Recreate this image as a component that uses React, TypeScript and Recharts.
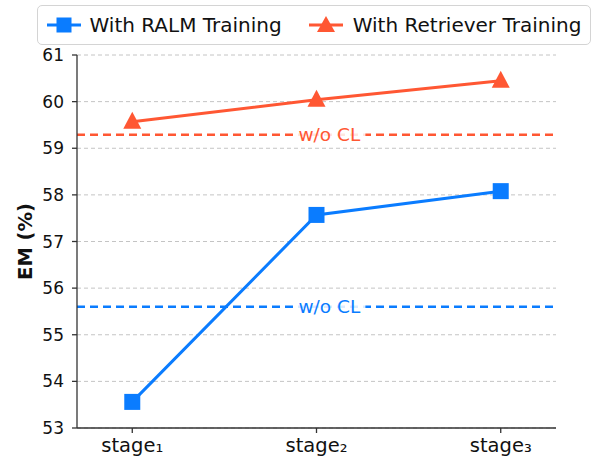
import React from "react";
import {
  ComposedChart,
  Line,
  XAxis,
  YAxis,
  CartesianGrid,
  ReferenceLine,
  ReferenceDot,
  Label,
} from "recharts";

// data
const STAGES = ["stage₁", "stage₂", "stage₃"];
const RALM_EM = [53.56, 57.57, 58.08];
const RETRIEVER_EM = [59.57, 60.04, 60.45];
const RALM_NO_CL = 55.6;
const RETRIEVER_NO_CL = 59.29;
const Y_TICKS = [53, 54, 55, 56, 57, 58, 59, 60, 61];
const X_TICKS = [0, 1, 2];

const BLUE = "#0a7cff";
const ORANGE = "#ff5733";
const FONT = "DejaVu Sans, sans-serif";

const chartData = STAGES.map((stage, i) => ({
  x: i,
  stage,
  ralm: RALM_EM[i],
  retriever: RETRIEVER_EM[i],
}));

function Square(props: any) {
  const { cx, cy } = props;
  if (cx == null || cy == null) return null;
  return <rect x={cx - 8} y={cy - 8} width={16} height={16} fill={BLUE} />;
}

function Triangle(props: any) {
  const { cx, cy } = props;
  if (cx == null || cy == null) return null;
  return (
    <polygon
      points={`${cx},${cy - 10} ${cx - 9},${cy + 7} ${cx + 9},${cy + 7}`}
      fill={ORANGE}
    />
  );
}

function NoClTag({ color }: { color: string }) {
  return (props: any) => {
    const { cx, cy } = props;
    if (cx == null || cy == null) return null;
    return (
      <g>
        <rect x={cx - 36} y={cy - 11} width={72} height={22} fill="#fff" fillOpacity={0.85} />
        <text
          x={cx}
          y={cy}
          dy="0.35em"
          textAnchor="middle"
          fontSize={18.5}
          fontFamily={FONT}
          fill={color}
        >
          w/o CL
        </text>
      </g>
    );
  };
}

function LegendMarker({ kind }: { kind: "square" | "triangle" }) {
  const color = kind === "square" ? BLUE : ORANGE;
  return (
    <svg width={34} height={20} style={{ flex: "none" }}>
      <line x1={0} y1={10} x2={34} y2={10} stroke={color} strokeWidth={3} />
      {kind === "square" ? (
        <rect x={9.5} y={2.5} width={15} height={15} fill={color} />
      ) : (
        <polygon points="17,1 8,17 26,17" fill={color} />
      )}
    </svg>
  );
}

function LegendBox() {
  return (
    <div
      style={{
        position: "absolute",
        left: 37,
        top: 5,
        boxSizing: "border-box",
        width: 554,
        height: 40,
        border: "1.5px solid #d4d4d4",
        borderRadius: 5,
        display: "flex",
        alignItems: "center",
        paddingLeft: 8.5,
        fontFamily: FONT,
        fontSize: 20,
        color: "#111",
        background: "#fff",
        whiteSpace: "nowrap",
      }}
    >
      <LegendMarker kind="square" />
      <span style={{ marginLeft: 9, marginRight: 27 }}>With RALM Training</span>
      <LegendMarker kind="triangle" />
      <span style={{ marginLeft: 10 }}>With Retriever Training</span>
    </div>
  );
}

export default function App() {
  return (
    <div style={{ position: "absolute", left: 0, top: 0, width: 595, height: 461, background: "#fff" }}>
      <ComposedChart
        width={595}
        height={461}
        data={chartData}
        margin={{ top: 55, right: 39, bottom: 0, left: 0 }}
      >
        <CartesianGrid
          horizontal
          vertical={false}
          stroke="#c4c4c4"
          strokeDasharray="4 3"
        />
        <XAxis
          dataKey="x"
          type="number"
          domain={[-0.3, 2.3]}
          ticks={X_TICKS}
          tickFormatter={(v: number) => STAGES[v]}
          height={33}
          tickSize={5}
          tickMargin={5}
          stroke="#333"
          strokeWidth={1.3}
          tick={{ fill: "#111", fontSize: 19.5, fontFamily: FONT }}
        />
        <YAxis
          type="number"
          domain={[53, 61]}
          ticks={Y_TICKS}
          width={77}
          tickSize={5}
          tickMargin={8}
          stroke="#333"
          strokeWidth={1.3}
          tick={{ fill: "#111", fontSize: 17, fontFamily: FONT }}
        >
          <Label
            content={(props: any) => {
              const { viewBox } = props;
              const cx = 25;
              const cy = viewBox.y + viewBox.height / 2;
              return (
                <text
                  x={cx}
                  y={cy}
                  transform={`rotate(-90 ${cx} ${cy})`}
                  textAnchor="middle"
                  dy="0.35em"
                  fontSize={19.5}
                  fontWeight="bold"
                  fontFamily={FONT}
                  fill="#111"
                >
                  EM (%)
                </text>
              );
            }}
          />
        </YAxis>
        <ReferenceLine
          y={RETRIEVER_NO_CL}
          stroke={ORANGE}
          strokeWidth={2.5}
          strokeDasharray="8 5"
        />
        <ReferenceLine
          y={RALM_NO_CL}
          stroke={BLUE}
          strokeWidth={2.5}
          strokeDasharray="8 5"
        />
        <ReferenceDot x={1.07} y={RETRIEVER_NO_CL} shape={NoClTag({ color: ORANGE })} />
        <ReferenceDot x={1.07} y={RALM_NO_CL} shape={NoClTag({ color: BLUE })} />
        <Line
          dataKey="ralm"
          stroke={BLUE}
          strokeWidth={3}
          dot={<Square />}
          activeDot={false}
          isAnimationActive={false}
        />
        <Line
          dataKey="retriever"
          stroke={ORANGE}
          strokeWidth={3}
          dot={<Triangle />}
          activeDot={false}
          isAnimationActive={false}
        />
      </ComposedChart>
      <LegendBox />
    </div>
  );
}
